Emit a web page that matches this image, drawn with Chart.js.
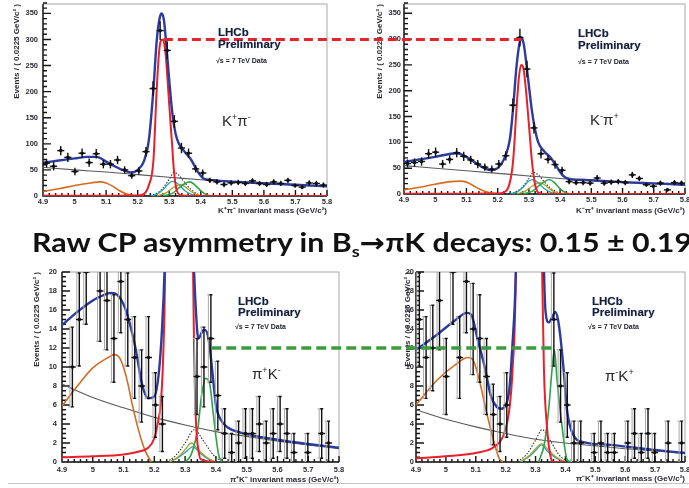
<!DOCTYPE html>
<html>
<head>
<meta charset="utf-8">
<title>Raw CP asymmetry in Bs → πK decays</title>
<script src="https://cdn.jsdelivr.net/npm/chart.js@4/dist/chart.umd.min.js"></script>
<style>
  html, body { margin: 0; padding: 0; background: #fff; }
  #page { position: relative; width: 689px; height: 488px; overflow: hidden; }
  #page canvas { position: absolute; }
  .lbl { position: absolute; white-space: nowrap; line-height: 1; font-family: "Liberation Sans", Arial, sans-serif; color: #1d1f2a; }
  .lhcb { font-weight: bold; font-size: 11.5px; text-shadow: 0 0 1px rgba(70, 110, 200, 0.7); }
  .energy { font-weight: bold; font-size: 7px; }
  .mode { font-size: 15px; color: #2a2a2a; }
  .mode sup { font-size: 9px; vertical-align: 6px; line-height: 0; }
  #title { position: absolute; left: 32px; top: 229px; white-space: nowrap; line-height: 1;
           font-family: Lato, "Open Sans", sans-serif; font-weight: 700; font-size: 26px; color: #111; transform-origin: 0 0; }
  #title sub { font-size: 0.6em; vertical-align: -0.3em; line-height: 0; }
  #title .arrow { font-family: "DejaVu Sans", sans-serif; font-weight: bold; }
</style>
</head>
<body>
<div id="page">
  <canvas id="kpi" width="345" height="216" style="left:0;top:0"></canvas>
  <canvas id="kpiBar" width="344" height="216" style="left:345px;top:0"></canvas>
  <canvas id="pik" width="345" height="220" style="left:0;top:268px"></canvas>
  <canvas id="pikBar" width="344" height="220" style="left:345px;top:268px"></canvas>
  <canvas id="guides" width="689" height="488" style="left:0;top:0;pointer-events:none"></canvas>

  <div class="lbl lhcb" style="left:218px;top:27px">LHCb</div>
  <div class="lbl lhcb" style="left:218px;top:39px">Preliminary</div>
  <div class="lbl energy" style="left:216px;top:57px">√s = 7 TeV Data</div>
  <div class="lbl mode" style="left:222px;top:113px">K<sup>+</sup>π<sup>-</sup></div>

  <div class="lbl lhcb" style="left:578px;top:28px">LHCb</div>
  <div class="lbl lhcb" style="left:578px;top:40px">Preliminary</div>
  <div class="lbl energy" style="left:578px;top:58px">√s = 7 TeV Data</div>
  <div class="lbl mode" style="left:590px;top:112px">K<sup>-</sup>π<sup>+</sup></div>

  <div class="lbl lhcb" style="left:238px;top:296px">LHCb</div>
  <div class="lbl lhcb" style="left:238px;top:306.5px">Preliminary</div>
  <div class="lbl energy" style="left:235px;top:322.5px">√s = 7 TeV Data</div>
  <div class="lbl mode" style="left:252px;top:366px">π<sup>+</sup>K<sup>-</sup></div>

  <div class="lbl lhcb" style="left:592px;top:296px">LHCb</div>
  <div class="lbl lhcb" style="left:592px;top:306.5px">Preliminary</div>
  <div class="lbl energy" style="left:588px;top:322.5px">√s = 7 TeV Data</div>
  <div class="lbl mode" style="left:605px;top:368px">π<sup>-</sup>K<sup>+</sup></div>

  <div id="title">Raw CP asymmetry in B<sub>s</sub><span class="arrow">→</span>πK decays: 0.15 ± 0.19</div>
</div>

<script>
// mass axis: 40 bins of 0.0225 GeV/c² between 4.9 and 5.8
const binCentres = [4.91125, 4.93375, 4.95625, 4.97875, 5.00125, 5.02375, 5.04625, 5.06875, 5.09125, 5.11375,
                    5.13625, 5.15875, 5.18125, 5.20375, 5.22625, 5.24875, 5.27125, 5.29375, 5.31625, 5.33875,
                    5.36125, 5.38375, 5.40625, 5.42875, 5.45125, 5.47375, 5.49625, 5.51875, 5.54125, 5.56375,
                    5.58625, 5.60875, 5.63125, 5.65375, 5.67625, 5.69875, 5.72125, 5.74375, 5.76625, 5.78875];
const halfBin = 0.01125;
const massTicks = [4.9, 5.0, 5.1, 5.2, 5.3, 5.4, 5.5, 5.6, 5.7, 5.8];
const massLabels = ['4.9', '5', '5.1', '5.2', '5.3', '5.4', '5.5', '5.6', '5.7', '5.8'];
const kpiYTicks = [0, 50, 100, 150, 200, 250, 300, 350];
const pikYTicks = [0, 2, 4, 6, 8, 10, 12, 14, 16, 18, 20];

// ---- K+pi- ----
const kpiCounts = [63, 57, 87, 74, 47, 82, 64, 81, 61, 61, 69, 50, 39, 48, 85, 206, 317, 279, 143, 92,
                   82, 52, 44, 30, 27, 22, 25, 26, 24, 29, 24, 22, 27, 24, 30, 20, 17, 25, 24, 21];
const kpiErrors = [8, 8, 9, 9, 7, 9, 8, 9, 8, 8, 8, 7, 6, 7, 9, 14, 18, 17, 12, 10,
                   9, 7, 7, 5, 5, 5, 5, 5, 5, 5, 5, 5, 5, 5, 5, 4, 4, 5, 5, 5];
const kpiTotal = [[4.90, 64], [4.95, 68], [5.00, 72], [5.04, 75], [5.07, 75], [5.10, 66], [5.13, 56], [5.16, 48],
                  [5.18, 45], [5.20, 50], [5.22, 67], [5.235, 105], [5.25, 205], [5.26, 295], [5.27, 342], [5.276, 350],
                  [5.283, 338], [5.29, 295], [5.30, 222], [5.31, 158], [5.32, 120], [5.33, 101], [5.35, 84], [5.37, 69],
                  [5.39, 47], [5.41, 33], [5.43, 31], [5.46, 29], [5.50, 27.5], [5.60, 24.5], [5.70, 21.5], [5.80, 18.5]];
const kpiBd = [[4.90, 0.5], [5.10, 0.5], [5.20, 1], [5.22, 4], [5.235, 20], [5.25, 69], [5.26, 200], [5.267, 270],
               [5.273, 297], [5.28, 300], [5.286, 285], [5.29, 262], [5.30, 175], [5.31, 90], [5.315, 48], [5.324, 10],
               [5.34, 1], [5.40, 0], [5.80, 0]];
const kpiComb = [[4.9, 55], [5.0, 50], [5.1, 46], [5.2, 41], [5.3, 36], [5.4, 31], [5.5, 27], [5.6, 24], [5.7, 21], [5.8, 18]];
const kpiPartReco = [[4.90, 9], [4.95, 14], [5.00, 20], [5.05, 25], [5.08, 27], [5.10, 25], [5.12, 19], [5.14, 11],
                     [5.16, 5], [5.18, 2], [5.20, 0.5], [5.22, 0]];
const kpiCross = [[5.23, 0], [5.26, 5], [5.28, 15], [5.30, 32], [5.315, 45], [5.33, 40], [5.35, 25], [5.37, 12], [5.39, 4], [5.42, 0]];
const kpiPiPi = [[5.24, 0], [5.26, 3], [5.28, 12], [5.30, 25], [5.31, 28], [5.33, 22], [5.35, 10], [5.37, 3], [5.39, 0]];
const kpiKK = [[5.26, 0], [5.29, 6], [5.31, 15], [5.335, 22], [5.35, 18], [5.37, 8], [5.39, 2], [5.41, 0]];
const kpiBs = [[5.28, 0], [5.31, 5], [5.33, 15], [5.35, 24], [5.365, 27], [5.38, 22], [5.40, 10], [5.42, 2], [5.44, 0]];

// ---- K-pi+ ----
const kpibCounts = [59, 61, 63, 78, 81, 58, 67, 80, 73, 66, 58, 52, 48, 58, 74, 172, 303, 242, 128, 78,
                    67, 57, 46, 24, 22, 22, 21, 31, 21, 23, 24, 22, 37, 30, 18, 15, 21, 8, 22, 21];
const kpibErrors = [8, 8, 8, 9, 9, 8, 8, 9, 9, 8, 8, 7, 7, 8, 9, 13, 17, 16, 11, 9,
                    8, 8, 7, 5, 5, 5, 5, 6, 5, 5, 5, 5, 6, 5, 4, 4, 5, 3, 5, 5];
const kpibTotal = [[4.90, 62], [4.95, 67], [5.00, 72], [5.05, 78], [5.07, 79], [5.10, 72], [5.13, 60], [5.16, 49],
                   [5.18, 46], [5.20, 50], [5.22, 67], [5.24, 110], [5.25, 170], [5.26, 245], [5.27, 292], [5.277, 303],
                   [5.285, 285], [5.29, 262], [5.30, 210], [5.31, 160], [5.32, 124], [5.33, 100], [5.35, 82], [5.37, 70],
                   [5.39, 52], [5.41, 35], [5.43, 29], [5.46, 27.5], [5.50, 26.5], [5.60, 23], [5.70, 20.5], [5.80, 18]];
const kpibBd = [[4.90, 0.5], [5.10, 0.5], [5.20, 1], [5.22, 3], [5.24, 25], [5.25, 68], [5.26, 162], [5.268, 226],
                [5.275, 250], [5.282, 245], [5.29, 205], [5.30, 135], [5.31, 62], [5.32, 18], [5.33, 3], [5.35, 0], [5.80, 0]];
const kpibComb = [[4.9, 55], [5.0, 50], [5.1, 45], [5.2, 40], [5.3, 35], [5.4, 30], [5.5, 26], [5.6, 22.5], [5.7, 20], [5.8, 17.5]];
const kpibPartReco = [[4.90, 8], [4.95, 13], [5.00, 19], [5.05, 24], [5.08, 25], [5.10, 23], [5.12, 17], [5.14, 10],
                      [5.16, 5], [5.18, 2], [5.20, 0.5], [5.22, 0]];
const kpibCross = [[5.23, 0], [5.26, 5], [5.28, 14], [5.30, 30], [5.315, 42], [5.33, 37], [5.35, 23], [5.37, 11], [5.39, 4], [5.42, 0]];
const kpibPiPi = [[5.24, 0], [5.26, 3], [5.28, 12], [5.30, 25], [5.31, 28], [5.33, 22], [5.35, 10], [5.37, 3], [5.39, 0]];
const kpibKK = [[5.26, 0], [5.29, 6], [5.31, 15], [5.335, 22], [5.35, 18], [5.37, 8], [5.39, 2], [5.41, 0]];
const kpibBs = [[5.28, 0], [5.31, 5], [5.33, 15], [5.35, 24], [5.365, 28], [5.38, 23], [5.40, 10], [5.42, 2], [5.44, 0]];

// ---- pi+K- ----
const pikCounts = [null, 10, 15, 20, null, 18, 17, 13, 19, 15, 11, 8, 11, 6, 4, null, null, null, null, 9,
                   10, 13, 7, 3, 1, 2, 3, 3, 4, 2, 3, 4, 3, 1, null, 1, null, 3, 2, null];
const pikErrors = [null, 4.2, 4.9, 5.5, null, 5.3, 5.2, 4.6, 5.4, 4.9, 4.3, 3.8, 4.3, 3.4, 2.9, null, null, null, null, 4.0,
                   4.2, 4.6, 3.6, 2.6, 2.0, 2.3, 2.6, 2.6, 2.9, 2.3, 2.6, 2.9, 2.6, 2.0, null, 2.0, null, 2.6, 2.3, null];
const pikTotal = [[4.90, 14.4], [4.95, 15.8], [5.00, 17.0], [5.03, 17.5], [5.06, 17.8], [5.08, 17.6], [5.10, 16.6], [5.12, 14.6],
                  [5.14, 11.8], [5.16, 8.2], [5.18, 6.7], [5.20, 6.9], [5.215, 9.5], [5.225, 14], [5.233, 20], [5.25, 45],
                  [5.28, 120], [5.31, 50], [5.325, 24], [5.335, 16], [5.343, 13], [5.357, 13.8], [5.365, 13.9], [5.377, 12.8],
                  [5.388, 9.7], [5.40, 6.0], [5.415, 4.5], [5.44, 3.6], [5.48, 3.1], [5.55, 2.6], [5.65, 2.1], [5.80, 1.5]];
const pikBd = [[4.90, 0.5], [5.00, 0.6], [5.10, 0.8], [5.15, 1.1], [5.18, 1.5], [5.20, 2.5], [5.21, 3.9], [5.222, 6.6],
               [5.229, 11.3], [5.235, 20], [5.25, 80], [5.278, 400], [5.31, 60], [5.326, 20], [5.329, 12], [5.333, 6],
               [5.338, 2.7], [5.343, 1.3], [5.35, 0.3], [5.40, 0]];
const pikComb = [[4.9, 8.2], [5.0, 6.8], [5.1, 5.7], [5.2, 4.7], [5.3, 3.9], [5.4, 3.2], [5.5, 2.7], [5.6, 2.2], [5.7, 1.8], [5.8, 1.4]];
const pikPartReco = [[4.90, 5.9], [4.95, 8.0], [5.00, 9.9], [5.05, 11.0], [5.07, 11.3], [5.09, 10.8], [5.11, 8.8], [5.13, 5.8],
                     [5.15, 3.2], [5.17, 1.2], [5.19, 0]];
const pikCross = [[5.24, 0], [5.27, 0.7], [5.30, 2.0], [5.33, 3.4], [5.36, 2.2], [5.39, 0.8], [5.42, 0]];
const pikPiPi = [[5.25, 0], [5.28, 0.5], [5.30, 1.0], [5.325, 1.6], [5.35, 0.9], [5.37, 0.4], [5.40, 0]];
const pikKK = [[5.25, 0], [5.28, 0.6], [5.30, 1.3], [5.32, 2.0], [5.34, 1.4], [5.37, 0.5], [5.40, 0]];
const pikBs = [[5.30, 0], [5.32, 0.8], [5.342, 3.7], [5.353, 6.9], [5.367, 8.8], [5.38, 8.2], [5.39, 5.5], [5.40, 2.7],
               [5.41, 0.6], [5.42, 0]];

// ---- pi-K+ ----
const pikbCounts = [15, 11, 12, 17, 9, 20, 11, 19, 14, 13, 9, 5, 4, 6, null, null, null, null, null, null,
                    15, 8, 6, 2, 2, null, 1, 2, 1, 1, null, 2, 3, 1, 3, 1, null, 2, null, 2];
const pikbErrors = [4.9, 4.3, 4.5, 5.2, 4.0, 5.5, 4.3, 5.4, 4.8, 4.6, 4.0, 3.2, 2.9, 3.4, null, null, null, null, null, null,
                    4.9, 3.8, 3.4, 2.3, 2.3, null, 2.0, 2.3, 2.0, 2.0, null, 2.3, 2.6, 2.0, 2.6, 2.0, null, 2.3, null, 2.3];
const pikbTotal = [[4.90, 11.8], [4.97, 13.4], [5.03, 14.9], [5.07, 15.7], [5.085, 15.5], [5.107, 12.8], [5.13, 10.0], [5.15, 7.0],
                   [5.17, 5.8], [5.185, 5.6], [5.20, 6.0], [5.212, 7.6], [5.222, 12], [5.234, 20], [5.25, 50], [5.28, 160],
                   [5.31, 60], [5.325, 25], [5.333, 16], [5.344, 14.7], [5.355, 15.2], [5.366, 15.8], [5.375, 15.0], [5.383, 13.2],
                   [5.394, 9.7], [5.405, 5.5], [5.427, 2.8], [5.46, 2.1], [5.55, 1.8], [5.66, 1.4], [5.80, 0.95]];
const pikbBd = [[4.90, 0.4], [5.00, 0.6], [5.107, 1.0], [5.162, 1.6], [5.195, 3.0], [5.212, 5.5], [5.223, 9.7], [5.234, 20],
                [5.25, 80], [5.278, 400], [5.31, 60], [5.322, 20], [5.328, 9.7], [5.339, 3.4], [5.35, 0.6], [5.36, 0], [5.40, 0]];
const pikbComb = [[4.9, 5.5], [5.0, 4.5], [5.1, 3.7], [5.2, 3.0], [5.3, 2.4], [5.4, 2.0], [5.5, 1.7], [5.6, 1.4], [5.7, 1.15], [5.8, 0.9]];
const pikbPartReco = [[4.90, 6.0], [4.97, 8.6], [5.03, 10.2], [5.074, 11.0], [5.09, 10.8], [5.112, 8.6], [5.134, 5.5],
                      [5.156, 2.7], [5.178, 0.4], [5.19, 0]];
const pikbCross = [[5.24, 0], [5.27, 0.8], [5.30, 2.3], [5.322, 3.4], [5.35, 2.2], [5.38, 0.7], [5.41, 0]];
const pikbPiPi = [[5.25, 0], [5.28, 0.6], [5.30, 1.2], [5.32, 1.8], [5.34, 1.1], [5.37, 0.4], [5.40, 0]];
const pikbKK = [[5.25, 0], [5.28, 0.7], [5.30, 1.4], [5.32, 1.9], [5.345, 1.2], [5.37, 0.5], [5.40, 0]];
const pikbBs = [[5.31, 0], [5.33, 2.0], [5.344, 5.6], [5.355, 9.7], [5.363, 11.8], [5.372, 8.6], [5.39, 3.4], [5.405, 0.3], [5.42, 0]];

// dashed comparison lines between the two charge-conjugate plots
const bdPeakGuide = { level: 300, from: 5.283, to: 5.277 };
const bsPeakGuide = { level: 12, from: 5.385, to: 5.363 };

const inkColor = '#2a2a33';
const tickFont = { family: 'Liberation Sans', size: 7.5, weight: 'bold' };
const axisTitleFont = { family: 'Liberation Sans', size: 8, weight: 'bold' };

// ROOT-style frame with inward major/minor tick marks
const rootFrame = {
  id: 'rootFrame',
  beforeDatasetsDraw(chart, args, o) {
    const { ctx, chartArea: a, scales: { x, y } } = chart;
    ctx.save();
    ctx.strokeStyle = '#a8a8a8';
    ctx.lineWidth = 1;
    ctx.strokeRect(a.left, a.top, a.right - a.left, a.bottom - a.top);
    ctx.strokeStyle = '#151515';
    ctx.lineWidth = 1.4;
    ctx.beginPath();
    ctx.moveTo(a.left, a.top);
    ctx.lineTo(a.left, a.bottom);
    ctx.lineTo(a.right, a.bottom);
    const ny = Math.round((y.max - y.min) / o.yMinor);
    for (let i = 0; i <= ny; i++) {
      const py = y.getPixelForValue(y.min + i * o.yMinor);
      ctx.moveTo(a.left, py);
      ctx.lineTo(a.left + (i % o.ySub === 0 ? 8 : 4), py);
    }
    const nx = Math.round((x.max - x.min) / o.xMinor);
    for (let i = 0; i <= nx; i++) {
      const px = x.getPixelForValue(x.min + i * o.xMinor);
      ctx.moveTo(px, a.bottom);
      ctx.lineTo(px, a.bottom - (i % o.xSub === 0 ? 6 : 3));
    }
    ctx.stroke();
    ctx.restore();
  }
};

// horizontal bin-width bars and vertical statistical error bars
const errorBars = {
  id: 'errorBars',
  afterDatasetsDraw(chart, args, o) {
    const { ctx, chartArea: a, scales: { x, y } } = chart;
    const pts = chart.data.datasets[0].data;
    ctx.save();
    ctx.beginPath();
    ctx.rect(a.left, a.top, a.right - a.left, a.bottom - a.top);
    ctx.clip();
    const bar = (p, dx, colour, w, cap) => {
      const px = x.getPixelForValue(p.x) + dx;
      const lo = y.getPixelForValue(Math.max(0, p.y - p.err));
      const hi = y.getPixelForValue(p.y + p.err);
      ctx.strokeStyle = colour;
      ctx.lineWidth = w;
      ctx.beginPath();
      ctx.moveTo(px, lo);
      ctx.lineTo(px, hi);
      if (cap) {
        ctx.moveTo(px - cap, lo); ctx.lineTo(px + cap, lo);
        ctx.moveTo(px - cap, hi); ctx.lineTo(px + cap, hi);
      }
      ctx.stroke();
    };
    pts.forEach(p => {
      if (o.ghost) bar(p, -2.5, '#a9a9a9', 1, 1.5);
      bar(p, 0, '#111', 1.4, o.cap);
      const py = y.getPixelForValue(p.y);
      ctx.strokeStyle = '#111';
      ctx.lineWidth = 1.4;
      ctx.beginPath();
      ctx.moveTo(x.getPixelForValue(p.x - halfBin), py);
      ctx.lineTo(x.getPixelForValue(p.x + halfBin), py);
      ctx.stroke();
    });
    ctx.restore();
  }
};

function drawPanel(canvasId, p) {
  const points = [];
  binCentres.forEach((m, i) => {
    if (p.counts[i] !== null) points.push({ x: m, y: p.counts[i], err: p.errors[i] });
  });
  const curve = (data, colour, width, dash) => ({
    data, showLine: true, borderColor: colour, borderWidth: width, borderDash: dash || [],
    pointRadius: 0, cubicInterpolationMode: 'monotone', fill: false
  });
  const b = p.box;
  return new Chart(document.getElementById(canvasId), {
    type: 'scatter',
    data: {
      datasets: [
        { data: points, pointRadius: 1.8, pointBackgroundColor: '#111', pointBorderWidth: 0 },
        curve(p.total, '#2d3b9d', 2.4),
        curve(p.bd, '#e8202a', 2),
        curve(p.bs, '#2ea24a', 1.6),
        curve(p.kk, '#a9a12c', 1.3),
        curve(p.pipi, '#20a7b0', 1.3),
        curve(p.cross, '#333', 1.1, [1.5, 1.5]),
        curve(p.partReco, '#d46b22', 1.6),
        curve(p.comb, '#5a5a5a', 1.1)
      ]
    },
    options: {
      responsive: false,
      animation: false,
      events: [],
      layout: { padding: { top: b.top, right: b.right, left: 0, bottom: 0 } },
      plugins: {
        legend: { display: false },
        tooltip: { enabled: false },
        rootFrame: p.frame,
        errorBars: { ghost: p.ghost, cap: p.ghost ? 1.5 : 0 }
      },
      scales: {
        x: {
          type: 'linear', min: 4.9, max: 5.8,
          grid: { display: false, drawTicks: false }, border: { display: false },
          afterBuildTicks: s => { s.ticks = massTicks.map(value => ({ value })); },
          afterFit: s => { s.height = b.xAxis; s.paddingLeft = 0; s.paddingRight = 0; },
          ticks: { autoSkip: false, maxRotation: 0, padding: b.xTickPad, color: inkColor, font: tickFont,
                   callback: (v, i) => massLabels[i] },
          title: { display: true, text: p.xTitle, align: 'end', color: inkColor, font: axisTitleFont,
                   padding: { top: 0, bottom: b.xTitlePad } }
        },
        y: {
          type: 'linear', min: 0, max: p.yMax,
          grid: { display: false, drawTicks: false }, border: { display: false },
          afterBuildTicks: s => { s.ticks = p.yTicks.map(value => ({ value })); },
          afterFit: s => { s.width = b.left; s.paddingTop = 0; s.paddingBottom = 0; },
          ticks: { autoSkip: false, padding: b.yTickPad, color: inkColor, font: tickFont },
          title: { display: true, text: 'Events / ( 0.0225 GeV/c² )', align: 'end', color: inkColor, font: axisTitleFont,
                   padding: { top: b.yTitlePad, bottom: 0 } }
        }
      }
    },
    plugins: [rootFrame, errorBars]
  });
}

const topFrame = { yMinor: 10, ySub: 5, xMinor: 0.02, xSub: 5 };
const lowFrame = { yMinor: 0.5, ySub: 4, xMinor: 0.02, xSub: 5 };

const cKpi = drawPanel('kpi', {
  counts: kpiCounts, errors: kpiErrors, total: kpiTotal, bd: kpiBd, bs: kpiBs, kk: kpiKK, pipi: kpiPiPi,
  cross: kpiCross, partReco: kpiPartReco, comb: kpiComb,
  yMax: 368, yTicks: kpiYTicks, frame: topFrame, ghost: false,
  xTitle: 'K⁺π⁻ invariant mass (GeV/c²)',
  box: { left: 43, top: 3, right: 18, xAxis: 20, xTickPad: 1, xTitlePad: 0.5, yTickPad: 5, yTitlePad: 12 }
});
const cKpiBar = drawPanel('kpiBar', {
  counts: kpibCounts, errors: kpibErrors, total: kpibTotal, bd: kpibBd, bs: kpibBs, kk: kpibKK, pipi: kpibPiPi,
  cross: kpibCross, partReco: kpibPartReco, comb: kpibComb,
  yMax: 368, yTicks: kpiYTicks, frame: topFrame, ghost: false,
  xTitle: 'K⁻π⁺ invariant mass (GeV/c²)',
  box: { left: 59, top: 3, right: 2, xAxis: 22, xTickPad: 1, xTitlePad: 0.5, yTickPad: 3, yTitlePad: 30 }
});
const cPik = drawPanel('pik', {
  counts: pikCounts, errors: pikErrors, total: pikTotal, bd: pikBd, bs: pikBs, kk: pikKK, pipi: pikPiPi,
  cross: pikCross, partReco: pikPartReco, comb: pikComb,
  yMax: 20, yTicks: pikYTicks, frame: lowFrame, ghost: true,
  xTitle: 'π⁺K⁻ invariant mass (GeV/c²)',
  box: { left: 62, top: 4, right: 6, xAxis: 26, xTickPad: 3, xTitlePad: 3.2, yTickPad: 5, yTitlePad: 32 }
});
const cPikBar = drawPanel('pikBar', {
  counts: pikbCounts, errors: pikbErrors, total: pikbTotal, bd: pikbBd, bs: pikbBs, kk: pikbKK, pipi: pikbPiPi,
  cross: pikbCross, partReco: pikbPartReco, comb: pikbComb,
  yMax: 20, yTicks: pikYTicks, frame: lowFrame, ghost: true,
  xTitle: 'π⁻K⁺ invariant mass (GeV/c²)',
  box: { left: 71, top: 4, right: 2, xAxis: 26, xTickPad: 3, xTitlePad: 4.2, yTickPad: 2, yTitlePad: 58 }
});

// page-level overlay: the two dashed peak-height guides and the pad edge
function drawGuide(ctx, g, chartA, chartB, colour, width, dash) {
  const ca = chartA.canvas, cb = chartB.canvas;
  const y = ca.offsetTop + chartA.scales.y.getPixelForValue(g.level);
  const x0 = ca.offsetLeft + chartA.scales.x.getPixelForValue(g.from);
  const x1 = cb.offsetLeft + chartB.scales.x.getPixelForValue(g.to);
  ctx.save();
  ctx.strokeStyle = colour;
  ctx.lineWidth = width;
  ctx.setLineDash(dash);
  ctx.beginPath();
  ctx.moveTo(x0, y);
  ctx.lineTo(x1, y);
  ctx.stroke();
  ctx.restore();
}
const gctx = document.getElementById('guides').getContext('2d');
gctx.strokeStyle = '#c4c4c4';
gctx.lineWidth = 1;
gctx.beginPath();
gctx.moveTo(8, 483.5);
gctx.lineTo(689, 483.5);
gctx.stroke();
drawGuide(gctx, bdPeakGuide, cKpi, cKpiBar, '#e3262b', 3, [9, 5]);
drawGuide(gctx, bsPeakGuide, cPik, cPikBar, '#3c9a3f', 3.5, [10, 5]);

// stretch the headline to span the page width
const title = document.getElementById('title');
const w = title.getBoundingClientRect().width;
title.style.transform = 'scaleX(' + (660 / w) + ')';
</script>
</body>
</html>
